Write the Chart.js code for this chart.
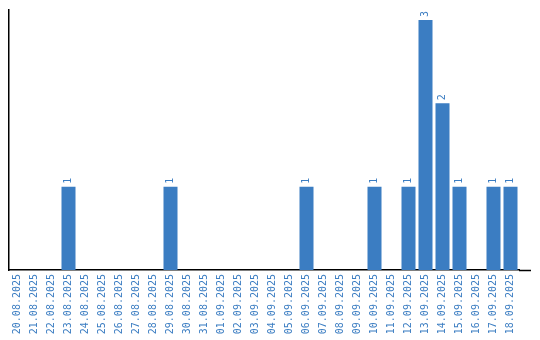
<!DOCTYPE html>
<html>
<head>
<meta charset="utf-8">
<script src="https://cdn.jsdelivr.net/npm/chart.js@4"></script>
<style>
html,body{margin:0;padding:0;background:#fff;}
canvas{display:block;}
</style>
</head>
<body>
<canvas id="c" width="540" height="340"></canvas>
<script>
const categories = ["20.08.2025","21.08.2025","22.08.2025","23.08.2025","24.08.2025","25.08.2025","26.08.2025","27.08.2025","28.08.2025","29.08.2025","30.08.2025","31.08.2025","01.09.2025","02.09.2025","03.09.2025","04.09.2025","05.09.2025","06.09.2025","07.09.2025","08.09.2025","09.09.2025","10.09.2025","11.09.2025","12.09.2025","13.09.2025","14.09.2025","15.09.2025","16.09.2025","17.09.2025","18.09.2025"];
const counts = [0,0,0,1,0,0,0,0,0,1,0,0,0,0,0,0,0,1,0,0,0,1,0,1,3,2,1,0,1,1];

const BLUE = '#3b7dc2';
const FONT = '"DejaVu Sans Mono", monospace';

const valueLabels = {
  id: 'valueLabels',
  afterDatasetsDraw(chart) {
    const ctx = chart.ctx;
    const meta = chart.getDatasetMeta(0);
    ctx.save();
    ctx.fillStyle = BLUE;
    ctx.font = '10px ' + FONT;
    ctx.textAlign = 'left';
    ctx.textBaseline = 'middle';
    meta.data.forEach((bar, i) => {
      const v = counts[i];
      if (!v) return;
      ctx.save();
      ctx.translate(bar.x, bar.y - 3);
      ctx.rotate(-Math.PI / 2);
      ctx.fillText(String(v), 0, 0);
      ctx.restore();
    });
    ctx.restore();
  }
};

const axisExtend = {
  id: 'axisExtend',
  afterDraw(chart) {
    const ctx = chart.ctx;
    const y = Math.round(chart.scales.y.getPixelForValue(0)) + 0.5;
    ctx.save();
    ctx.strokeStyle = '#000';
    ctx.lineWidth = 1.5;
    ctx.beginPath();
    ctx.moveTo(chart.chartArea.right, y);
    ctx.lineTo(chart.chartArea.right + 12, y);
    ctx.stroke();
    ctx.restore();
  }
};

new Chart(document.getElementById('c'), {
  type: 'bar',
  data: {
    labels: categories,
    datasets: [{
      data: counts,
      backgroundColor: BLUE,
      borderWidth: 0,
      barPercentage: 14/17,
      categoryPercentage: 1
    }]
  },
  options: {
    responsive: false,
    animation: false,
    devicePixelRatio: 1,
    layout: { padding: { left: 9, right: 21, top: 10, bottom: 0 } },
    plugins: { legend: { display: false }, tooltip: { enabled: false } },
    scales: {
      x: {
        offset: true,
        grid: { display: false, drawTicks: false },
        border: { display: true, color: '#000', width: 1.5 },
        ticks: {
          color: BLUE,
          font: { family: FONT, size: 10 },
          minRotation: 90,
          maxRotation: 90,
          autoSkip: false,
          padding: 4
        },
        afterFit(scale) { scale.height = 70; }
      },
      y: {
        min: 0,
        max: 3.12,
        grid: { display: false, drawTicks: false },
        border: { display: true, color: '#000', width: 1.5 },
        ticks: { display: false },
        afterFit(scale) { scale.width = 0; }
      }
    }
  },
  plugins: [valueLabels, axisExtend]
});
</script>
</body>
</html>
